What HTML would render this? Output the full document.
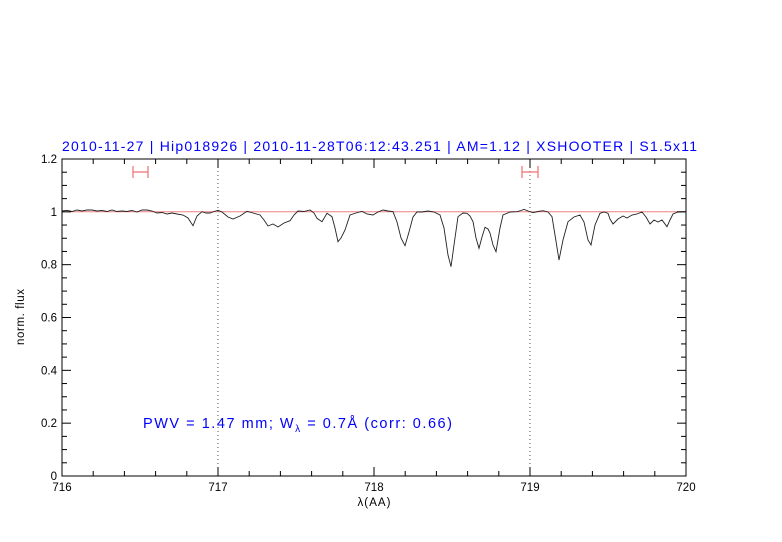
<!DOCTYPE html>
<html><head><meta charset="utf-8"><style>
body{margin:0;background:#fff;}
svg{display:block;font-family:"Liberation Sans",sans-serif;}
</style></head><body>
<svg id="s" width="782" height="542" xmlns="http://www.w3.org/2000/svg">
<rect width="782" height="542" fill="#fff"/>
<text x="62" y="151" fill="#0000ff" font-size="14" textLength="635" lengthAdjust="spacing">2010-11-27 | Hip018926 | 2010-11-28T06:12:43.251 | AM=1.12 | XSHOOTER | S1.5x11</text>
<line x1="62" y1="211.8" x2="686" y2="211.8" stroke="#f08080" stroke-width="1"/>
<line x1="218" y1="159" x2="218" y2="476" stroke="#555" stroke-dasharray="1,3" stroke-width="1"/>
<line x1="530" y1="159" x2="530" y2="476" stroke="#555" stroke-dasharray="1,3" stroke-width="1"/>
<g stroke="#f07070" stroke-width="1.2" fill="none">
<path d="M133 166V178M133 172H148M148 166V178"/>
<path d="M522 166V178M522 172H538M538 166V178"/>
</g>
<polyline fill="none" stroke="#222" stroke-width="0.9" points="62,211 67,210.3 72,211.5 77,210 82,211 87,210 92,210 97,211 102,210.5 107,211.5 112,210 117,211.5 122,211 127,211.5 132,210.5 137,212 142,210 147,210 152,211 157,213 162,212.5 167,214 172,213 177,214 183,215 188,218 193,225.7 197,216 202,211.7 206,213 210,213 214,211.5 218,210.3 222,212 228,217 233,219 240,216 247,211.3 253,213 260,215 264,220 268,226 273,224 278,227 284,223 290,220.7 294,215 298,211 304,211.5 310,210 314,213 317,218.3 322,221.7 327,213.3 332,216.7 335,228 338,241.7 341,238 345,230 350,215 356,213 362,211.3 367,214 373,215 378,212 383,210 388,211 393,211.7 397,222 401,238 405,245.7 409,232 413,217 417,212 422,212 428,211 434,212 440,215 444,228 448,255 451,266.7 454,245 458,216.7 463,213 467,213.3 470,216 473,221.7 476,238 479,248.3 482,237 485,227.3 488,229 490,233 493,245 496,251.7 500,228 503,215 510,212 517,211.7 521,210.5 524,209.3 528,211 533,212.7 538,211.5 543,210.7 548,212 552,216.7 555,235 559,260 563,240 568,221.7 574,217 580,215 584,222 588,240 591,245 595,225 600,213.3 604,212 608,213.3 610,219 613,224 618,219 623,216 627,218 632,215 637,214 642,212 646,217 650,224 654,220 658,222 662,220 667,226.7 670,220 673,214 678,212 685,211.7"/>
<rect x="62" y="159" width="624" height="317" fill="none" stroke="#000" stroke-width="1"/>
<g id="ticks" stroke="#000" stroke-width="1"></g>
<g id="lbl" font-size="11.5" fill="#000"></g>
<text x="143" y="428" fill="#0000ff" font-size="14.5" textLength="309" lengthAdjust="spacing">PWV = 1.47 mm; W<tspan font-size="10" dy="4">λ</tspan><tspan dy="-4"> = 0.7Å (corr: 0.66)</tspan></text>
<text x="374" y="506" text-anchor="middle" font-size="11.5" textLength="33" lengthAdjust="spacing">λ(AA)</text>
<text transform="translate(24,317) rotate(-90)" text-anchor="middle" font-size="11.5" textLength="56" lengthAdjust="spacing">norm. flux</text>
</svg>
<script>
var t=document.getElementById('ticks'),l=document.getElementById('lbl'),ns="http://www.w3.org/2000/svg";
function ln(a,b,c,d){var e=document.createElementNS(ns,'line');e.setAttribute('x1',a);e.setAttribute('y1',b);e.setAttribute('x2',c);e.setAttribute('y2',d);t.appendChild(e);}
function tx(x,y,s,a){var e=document.createElementNS(ns,'text');e.setAttribute('x',x);e.setAttribute('y',y);e.setAttribute('text-anchor',a);e.textContent=s;l.appendChild(e);}
for(var i=0;i<=20;i++){var x=62+i*31.2,L=(i%5==0)?9:5;ln(x,476,x,476-L);ln(x,159,x,159+L);if(i%5==0)tx(x,491,String(716+i/5),'middle');}
for(var j=0;j<=24;j++){var y=476-j*317/24,L=(j%4==0)?9:5;ln(62,y,62+L,y);ln(686,y,686-L,y);if(j%4==0){var v=j/20;var s=(v==0)?'0':(v==1)?'1':v.toFixed(1);tx(57,y+4,s,'end');}}
</script>
</body></html>
